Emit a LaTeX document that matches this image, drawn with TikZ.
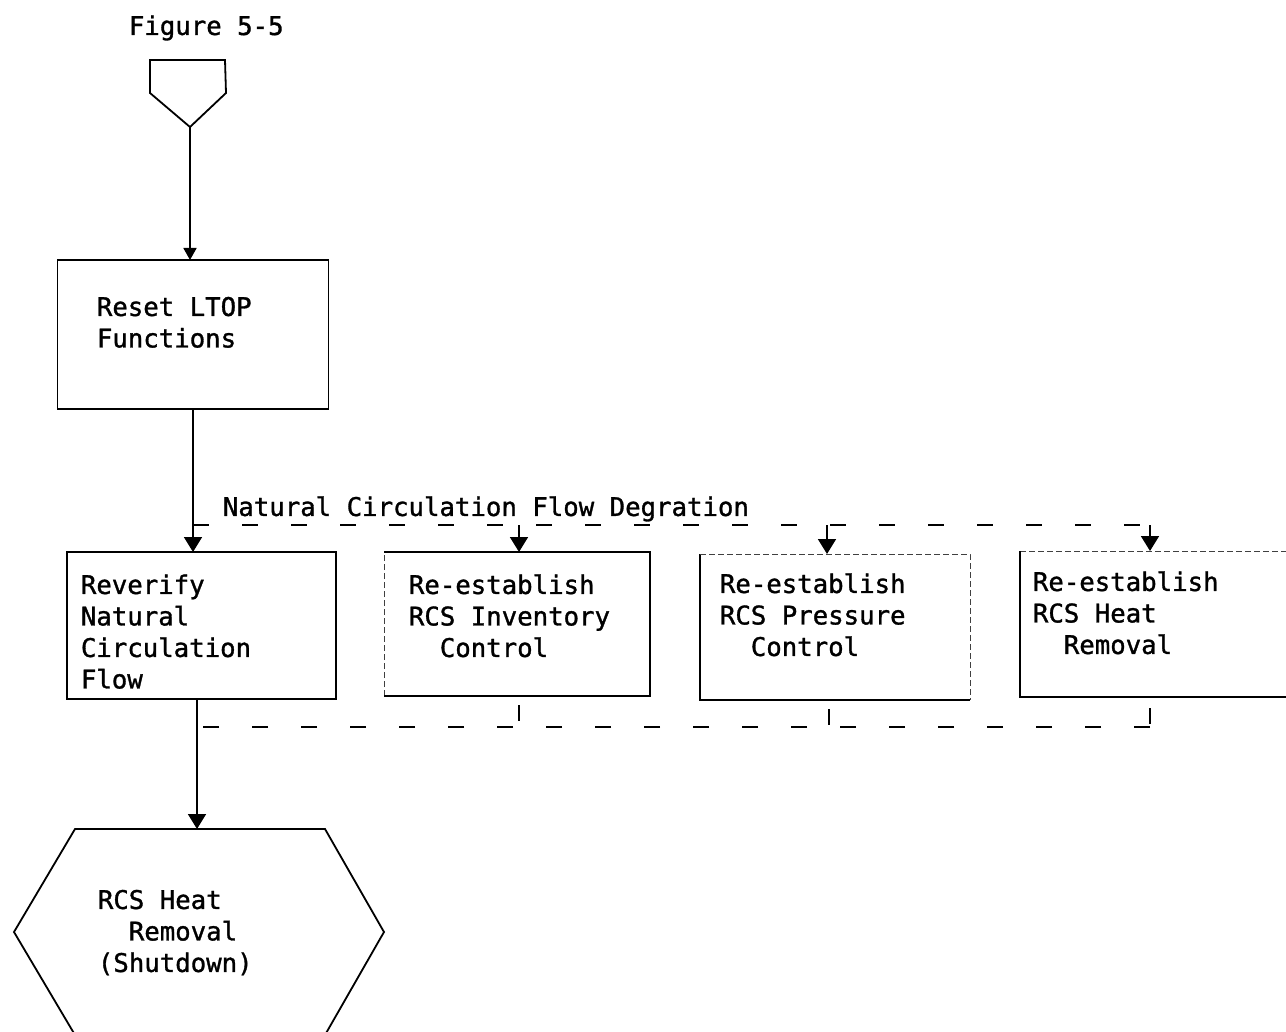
\documentclass[tikz,border=0pt]{standalone}
\usepackage{fontspec}
\newfontfamily\flowfont[FakeBold=1.2]{DejaVu Sans Mono}
\usetikzlibrary{arrows.meta}
\begin{document}
\begin{tikzpicture}[x=1pt,y=-1pt,
  line width=1.8pt,
  txt/.style={font=\flowfont\fontsize{25.7}{31.5}\selectfont, inner sep=0pt,
              align=left, anchor=north west},
  boxnode/.style={rectangle, inner sep=0pt, outer sep=0pt},
  boxed/.style={boxnode, draw},
  thin edge/.style={line width=1.3pt},
  faint/.style={line width=1pt, dash pattern=on 6pt off 3pt, black!75},
  arr/.style={-{Triangle[width=18pt,length=15pt]}},
  smallarr/.style={-{Triangle[width=13pt,length=12pt]}},
  dashline/.style={line width=1.8pt, dash pattern=on 16pt off 33pt},
]
\useasboundingbox (0,0) rectangle (1286,1032);

% page title
\node[txt] (fig) at (128,12) {\strut Figure 5-5};

% off-page connector
\draw (150,60) -- (225,60) -- (226,93) -- (190,127) coordinate (ptip) -- (150,93) -- cycle;

% main boxes
\node[boxed, minimum width=271, minimum height=149] (reset) at (193,334.5) {};
\node[boxed, minimum width=269, minimum height=147] (b1) at (201.5,625.5) {};
\node[boxnode, minimum width=266, minimum height=144] (b2) at (517,624) {};
\node[boxnode, minimum width=270, minimum height=146] (b3) at (835,627) {};
\node[boxnode, minimum width=280, minimum height=146] (b4) at (1160,624) {};

% edges of the three re-establish boxes
\draw[faint] (b2.south west) -- (b2.north west);
\draw[thin edge] (b2.north west) -- (b2.north east) -- (b2.south east) -- (b2.south west);
\draw (b3.north west) -- (b3.south west) -- (b3.south east);
\draw[faint] (b3.north west) -- (b3.north east) -- (b3.south east);
\draw[faint] (b4.north west) -- (b4.north east);
\draw (b4.north east) -- (b4.south east) -- (b4.south west) -- (b4.north west);

% box texts
\node[txt] (treset) at (96,293) {\strut Reset LTOP\\Functions};
\node[txt] (t1) at (80,571) {\strut Reverify\\Natural\\Circulation\\Flow};
\node[txt] (t2) at (408,571) {\strut Re-establish\\RCS Inventory\\\hphantom{RC}Control};
\node[txt] (t3) at (719,570) {\strut Re-establish\\RCS Pressure\\\hphantom{RC}Control};
\node[txt] (t4) at (1032,568) {\strut Re-establish\\RCS Heat\\\hphantom{RC}Removal};

% end state hexagon
\draw (75,829) -- (325,829) -- (384,932) -- (325,1035) -- (75,1035) -- (14,932) -- cycle;
\coordinate (hextop) at (197,829);
\node[txt] (thex) at (97,886) {\strut RCS Heat\\\hphantom{RC}Removal\\(Shutdown)};

% main flow
\draw[smallarr] (ptip) -- (ptip |- reset.north);
\draw[arr] (reset.south) -- (reset.south |- b1.north);
\draw[arr] (hextop |- b1.south) -- (hextop);

% degradation branch
\node[txt] (lbl) at (222,493) {\strut Natural Circulation Flow Degration};
\coordinate (jt) at (193,525);
\coordinate (s2) at (519,525);
\coordinate (s3) at (827,525);
\coordinate (s4) at (1150,525);
\draw[dashline] (jt) -- (s4);
\draw[arr] (s2) -- (s2 |- b2.north);
\draw[arr] (s3) -- (s3 |- b3.north);
\draw[arr] (s4) -- (s4 |- b4.north);

% return to main flow
\coordinate (jb) at (197,727);
\coordinate (r2) at (519,727);
\coordinate (r3) at (829,727);
\coordinate (r4) at (1150,727);
\draw[dashline, dash phase=40pt] (r2 |- b2.south) -- (r2);
\draw[dashline, dash phase=40pt] (r3 |- b3.south) -- (r3);
\draw[dashline, dash phase=38pt] (r4 |- b4.south) -- (r4);
\draw[dashline] (r4) -- (jb);
\end{tikzpicture}
\end{document}
